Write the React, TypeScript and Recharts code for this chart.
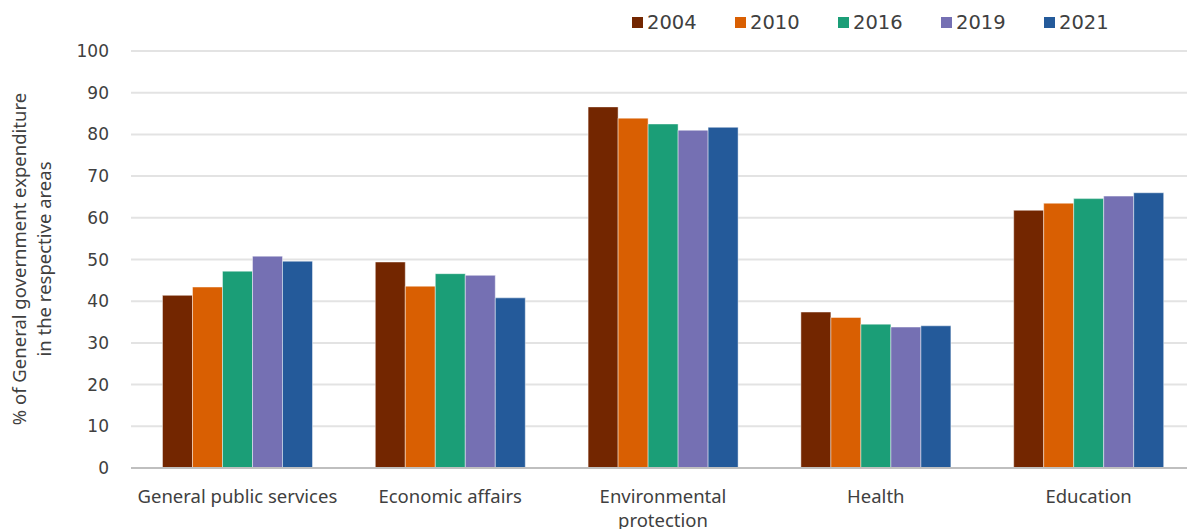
import { Bar, BarChart, CartesianGrid, XAxis, YAxis } from "recharts";

const areas = ["General public services", "Economic affairs", "Environmental protection", "Health", "Education"];
const y2004 = [41.4, 49.4, 86.6, 37.4, 61.8];
const y2010 = [43.4, 43.6, 83.9, 36.1, 63.5];
const y2016 = [47.2, 46.6, 82.5, 34.5, 64.6];
const y2019 = [50.8, 46.2, 81.0, 33.8, 65.2];
const y2021 = [49.6, 40.8, 81.7, 34.1, 66.0];
const yTicks = [0, 10, 20, 30, 40, 50, 60, 70, 80, 90, 100];

const series = [
  { key: "2004", color: "#732600", values: y2004 },
  { key: "2010", color: "#d95f02", values: y2010 },
  { key: "2016", color: "#1b9e77", values: y2016 },
  { key: "2019", color: "#7570b3", values: y2019 },
  { key: "2021", color: "#245a9a", values: y2021 }
];

const data = areas.map((area, i) => {
  const row: Record<string, string | number> = { area };
  series.forEach((s) => {
    row[s.key] = s.values[i];
  });
  return row;
});

const textColor = "#404040";
const font = "'Noto Sans', sans-serif";

// the original wraps only the long "Environmental protection" label
function AreaTick({ x, y, payload }: any) {
  const label: string = payload.value;
  const lines = label === "Environmental protection" ? ["Environmental", "protection"] : [label];
  return (
    <text x={x} y={y} textAnchor="middle" fill={textColor} fontSize={18.5} fontFamily={font}>
      {lines.map((line, i) => (
        <tspan key={line} x={x} y={y + 27 + i * 24}>
          {line}
        </tspan>
      ))}
    </text>
  );
}

// legend drawn by hand so the boxes sit where the original puts them
function YearLegend() {
  return (
    <div style={{ position: "absolute", left: 632, top: 11, display: "flex" }}>
      {series.map((s) => (
        <div key={s.key} style={{ display: "flex", alignItems: "center", width: 103 }}>
          <span style={{ width: 11, height: 11, background: s.color, marginRight: 4 }} />
          <span style={{ fontFamily: "'DejaVu Sans', sans-serif", fontSize: 19.5, color: textColor }}>{s.key}</span>
        </div>
      ))}
    </div>
  );
}

export default function App() {
  return (
    <div style={{ position: "absolute", left: 0, top: 0, width: 1187, height: 529, overflow: "hidden", background: "#fff" }}>
      <BarChart
        width={1200}
        height={529}
        data={data}
        margin={{ top: 51, right: 5, bottom: 0, left: 0 }}
        barCategoryGap="14.8%"
        barGap={0}
      >
        <CartesianGrid vertical={false} stroke="#e3e3e3" strokeWidth={2} />
        <XAxis
          dataKey="area"
          height={61}
          tickLine={false}
          axisLine={{ stroke: "#bfbfbf", strokeWidth: 2 }}
          tick={<AreaTick />}
          interval={0}
        />
        <YAxis
          width={131}
          domain={[0, 100]}
          ticks={yTicks}
          tickLine={false}
          axisLine={false}
          tickMargin={16}
          tick={{ fill: textColor, fontSize: 17, fontFamily: "'DejaVu Sans', sans-serif" }}
          label={{
            content: () => (
              <text transform="translate(0,259) rotate(-90)" textAnchor="middle" fill={textColor} fontSize={18.5} fontFamily={font}>
                <tspan x={0} y={26}>% of General government expenditure</tspan>
                <tspan x={0} y={51}>in the respective areas</tspan>
              </text>
            )
          }}
        />
        {series.map((s) => (
          <Bar
            key={s.key}
            dataKey={s.key}
            fill={s.color}
            stroke="#ffffff"
            strokeOpacity={0.45}
            strokeWidth={1}
            isAnimationActive={false}
          />
        ))}
      </BarChart>
      <YearLegend />
    </div>
  );
}
